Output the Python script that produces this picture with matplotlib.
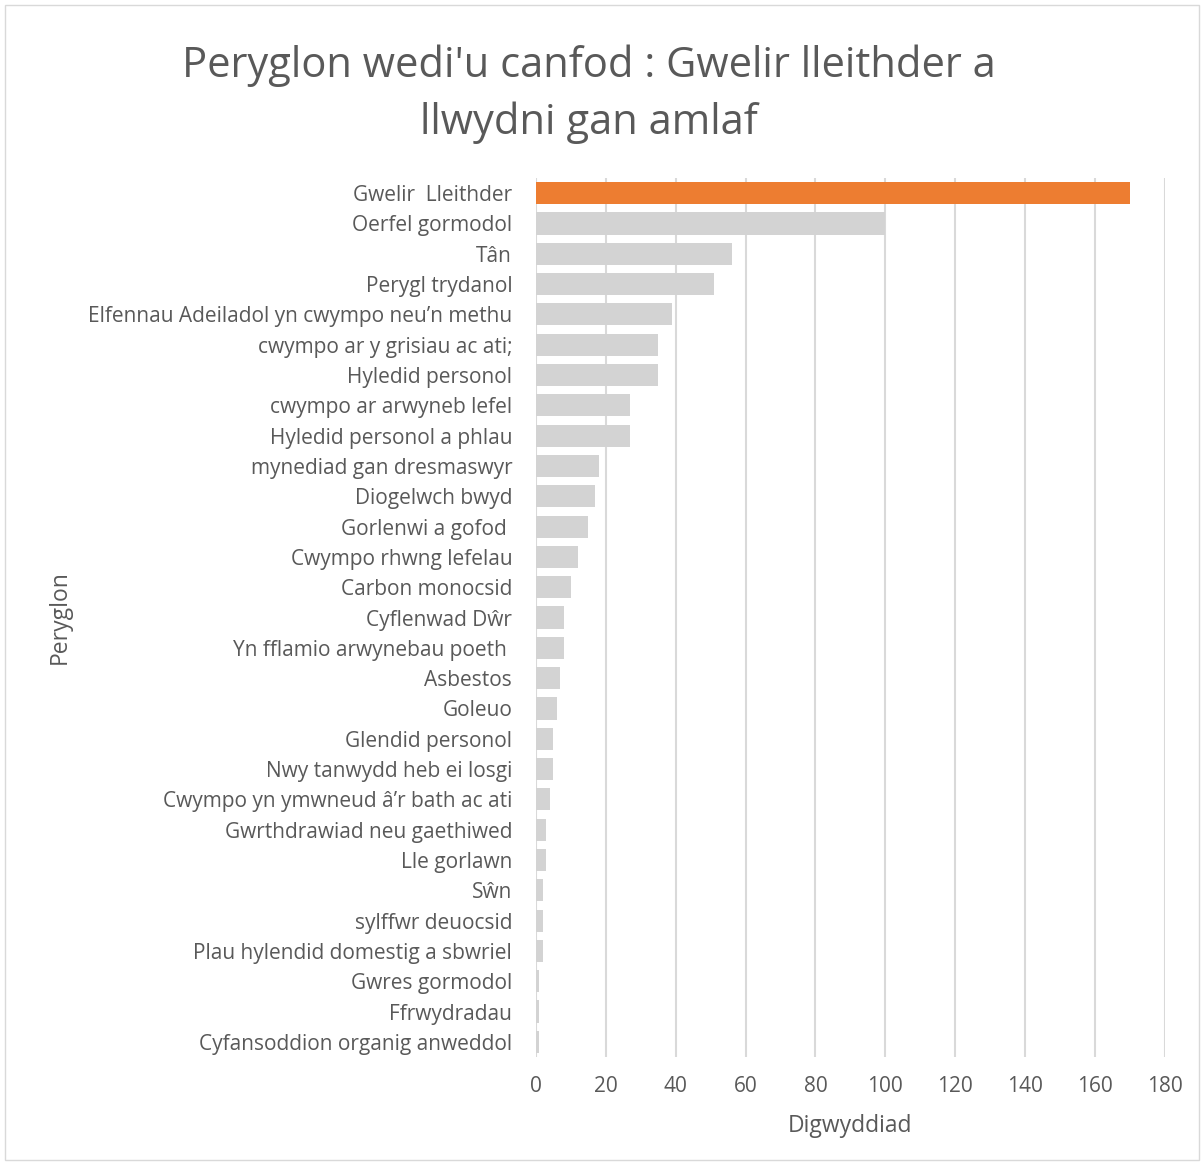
import matplotlib.pyplot as plt
from matplotlib.patches import Rectangle

# Data (top to bottom)
categories = [
    "Gwelir  Lleithder", "Oerfel gormodol", "Tân", "Perygl trydanol",
    "Elfennau Adeiladol yn cwympo neu’n methu", "cwympo ar y grisiau ac ati;",
    "Hyledid personol", "cwympo ar arwyneb lefel", "Hyledid personol a phlau",
    "mynediad gan dresmaswyr", "Diogelwch bwyd", "Gorlenwi a gofod ",
    "Cwympo rhwng lefelau", "Carbon monocsid", "Cyflenwad Dŵr",
    "Yn fflamio arwynebau poeth ", "Asbestos", "Goleuo", "Glendid personol",
    "Nwy tanwydd heb ei losgi", "Cwympo yn ymwneud â’r bath ac ati",
    "Gwrthdrawiad neu gaethiwed", "Lle gorlawn", "Sŵn", "sylffwr deuocsid",
    "Plau hylendid domestig a sbwriel", "Gwres gormodol", "Ffrwydradau",
    "Cyfansoddion organig anweddol",
]
values = [170, 100, 56, 51, 39, 35, 35, 27, 27, 18, 17, 15, 12, 10, 8, 8,
          7, 6, 5, 5, 4, 3, 3, 2, 2, 2, 1, 1, 1]
x_ticks = [0, 20, 40, 60, 80, 100, 120, 140, 160, 180]

text_col = "#595959"
plt.rcParams['font.family'] = ['Open Sans', 'DejaVu Sans']

fig = plt.figure(figsize=(12.04, 11.65), dpi=100)
ax = fig.add_axes([0.445, 0.0927, 0.5226, 0.7545])

colors = ["#ed7d31"] + ["#d3d3d3"] * (len(values) - 1)
y = list(range(len(categories)))
ax.barh(y, values, height=0.73, color=colors, zorder=2)
ax.set_ylim(len(categories) - 0.5, -0.5)
ax.set_xlim(0, 180)
ax.set_xticks(x_ticks)
ax.set_yticks(y)
ax.set_yticklabels(categories)
ax.xaxis.grid(True, color="#d9d9d9", linewidth=1.5, zorder=0)
ax.set_axisbelow(True)
for s in ax.spines.values():
    s.set_visible(False)
ax.tick_params(axis='both', length=0, colors=text_col, labelsize=15)
ax.tick_params(axis='y', pad=17)
ax.tick_params(axis='x', pad=14)

ax.set_xlabel("Digwyddiad", fontsize=16.5, color=text_col, labelpad=12)
fig.text(0.05, 0.47, "Peryglon", rotation=90, fontsize=16.5, color=text_col,
         ha='center', va='center')
fig.text(0.489, 0.919, "Peryglon wedi'u canfod : Gwelir lleithder a\nllwydni gan amlaf",
         fontsize=30, color=text_col, ha='center', va='center', linespacing=1.45)

# light border around the chart area
fig.patches.append(Rectangle((0.004, 0.004), 0.992, 0.992, transform=fig.transFigure,
                             fill=False, edgecolor="#d9d9d9", linewidth=1))

fig.savefig("out.png", dpi=100)
